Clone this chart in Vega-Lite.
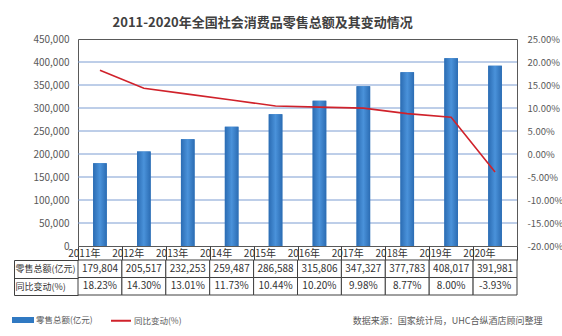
{
  "$schema": "https://vega.github.io/schema/vega-lite/v6.json",
  "padding": {"left": 12, "top": 16, "right": 0, "bottom": 5},
  "background": "white",
  "title": {"text": "2011-2020年全国社会消费品零售总额及其变动情况", "fontSize": 13, "fontWeight": "bold", "color": "#404040", "anchor": "middle", "dx": -25, "offset": 4},
  "config": {
    "font": "Noto Sans CJK SC",
    "locale": {"number": {"decimal": ".", "thousands": ",", "grouping": [3], "currency": ["$", ""], "minus": "-"}}
  },
  "bounds": "flush",
  "spacing": 14,
  "datasets": {
    "d": [
      {"year": "2011年", "amount": 179804, "pct": 0.1823},
      {"year": "2012年", "amount": 205517, "pct": 0.1430},
      {"year": "2013年", "amount": 232253, "pct": 0.1301},
      {"year": "2014年", "amount": 259487, "pct": 0.1173},
      {"year": "2015年", "amount": 286588, "pct": 0.1044},
      {"year": "2016年", "amount": 315806, "pct": 0.1020},
      {"year": "2017年", "amount": 347327, "pct": 0.0998},
      {"year": "2018年", "amount": 377783, "pct": 0.0877},
      {"year": "2019年", "amount": 408017, "pct": 0.0800},
      {"year": "2020年", "amount": 391981, "pct": -0.0393}
    ],
    "gridlines": [
      {"tick": 50000}, {"tick": 100000}, {"tick": 150000}, {"tick": 200000},
      {"tick": 250000}, {"tick": 300000}, {"tick": 350000}, {"tick": 400000}
    ]
  },
  "resolve": {"scale": {"color": "shared"}, "legend": {"color": "shared"}},
  "vconcat": [
    {
      "width": 439,
      "height": 207,
      "view": {"stroke": "#595959", "strokeWidth": 1},
      "layer": [
        {
          "layer": [
            {
              "data": {"name": "gridlines"},
              "mark": {"type": "rule", "stroke": "#7d9dd2", "strokeWidth": 1, "opacity": 1},
              "encoding": {
                "x": {"datum": "2011年", "type": "nominal", "bandPosition": 0},
                "x2": {"datum": "2020年", "bandPosition": 1},
                "y": {"field": "tick", "type": "quantitative",
                  "scale": {"domain": [0, 450000], "nice": false},
                  "axis": {"title": null, "values": [0, 50000, 100000, 150000, 200000, 250000, 300000, 350000, 400000, 450000], "format": ",.0f", "grid": false, "domain": false, "ticks": false, "labelPadding": 9, "labelFontSize": 10, "labelColor": "#595959"}}
              }
            },
            {
              "data": {"name": "d"},
              "mark": {"type": "bar", "width": {"band": 0.31}},
              "encoding": {
                "x": {"field": "year", "type": "nominal", "sort": null,
                  "scale": {"type": "band", "domain": ["2011年", "2012年", "2013年", "2014年", "2015年", "2016年", "2017年", "2018年", "2019年", "2020年"], "paddingInner": 0, "paddingOuter": 0},
                  "axis": {"title": null, "orient": "bottom", "domain": false, "ticks": true, "tickBand": "extent", "tickSize": 14, "tickColor": "#404040", "tickWidth": 1, "labelPadding": -7, "labelBaseline": "middle", "labelFontSize": 10, "labelColor": "#333333", "labelAngle": 0, "grid": false}},
                "y": {"field": "amount", "type": "quantitative",
                  "axis": {"title": null, "values": [0, 50000, 100000, 150000, 200000, 250000, 300000, 350000, 400000, 450000], "format": ",.0f", "grid": false, "domain": false, "ticks": false, "labelPadding": 9, "labelFontSize": 10, "labelColor": "#595959"}},
                "color": {"datum": "零售总额(亿元)",
                  "scale": {"domain": ["零售总额(亿元)", "同比变动(%)"], "range": ["#3079c2", "#d0222b"]},
                  "legend": {"orient": "none", "legendX": -66, "legendY": 270, "direction": "horizontal", "title": null, "symbolSize": 400, "labelFontSize": 8.5, "labelColor": "#595959", "columnPadding": 14, "labelOffset": 2,
                    "encode": {"symbols": {"update": {
                      "shape": {"signal": "datum.value === '零售总额(亿元)' ? 'M-1,-0.2H1V0.2H-1Z' : 'M-1,0H1'"},
                      "fill": {"signal": "datum.value === '零售总额(亿元)' ? '#3079c2' : 'transparent'"},
                      "stroke": {"signal": "datum.value === '零售总额(亿元)' ? 'transparent' : '#d0222b'"},
                      "strokeWidth": {"value": 2}
                    }}}}
                }
              }
            },
            {
              "data": {"name": "d"},
              "mark": {"type": "bar", "width": {"band": 0.31},
                "fill": {"gradient": "linear", "x1": 0, "y1": 0, "x2": 1, "y2": 0,
                  "stops": [{"offset": 0, "color": "#2b6cb3"}, {"offset": 0.5, "color": "#4a92da"}, {"offset": 1, "color": "#2b6cb3"}]}},
              "encoding": {
                "x": {"field": "year", "type": "nominal", "sort": null,
                  "axis": {"title": null, "orient": "bottom", "domain": false, "ticks": true, "tickBand": "extent", "tickSize": 14, "tickColor": "#404040", "tickWidth": 1, "labelPadding": -7, "labelBaseline": "middle", "labelFontSize": 10, "labelColor": "#333333", "labelAngle": 0, "grid": false}},
                "y": {"field": "amount", "type": "quantitative",
                  "axis": {"title": null, "values": [0, 50000, 100000, 150000, 200000, 250000, 300000, 350000, 400000, 450000], "format": ",.0f", "grid": false, "domain": false, "ticks": false, "labelPadding": 9, "labelFontSize": 10, "labelColor": "#595959"}}
              }
            }
          ]
        },
        {
          "data": {"name": "d"},
          "mark": {"type": "line", "strokeWidth": 1.6},
          "encoding": {
            "x": {"field": "year", "type": "nominal", "sort": null,
              "axis": {"title": null, "orient": "bottom", "domain": false, "ticks": true, "tickBand": "extent", "tickSize": 14, "tickColor": "#404040", "tickWidth": 1, "labelPadding": -7, "labelBaseline": "middle", "labelFontSize": 10, "labelColor": "#333333", "labelAngle": 0, "grid": false}},
            "y": {"field": "pct", "type": "quantitative",
              "scale": {"domain": [-0.2, 0.25], "nice": false},
              "axis": {"orient": "right", "title": null, "values": [-0.2, -0.15, -0.1, -0.05, 0, 0.05, 0.1, 0.15, 0.2, 0.25], "format": ".2%", "grid": false, "domain": false, "ticks": false, "labelPadding": 10, "labelFontSize": 9.5, "labelColor": "#595959"}},
            "color": {"datum": "同比变动(%)"}
          }
        }
      ],
      "resolve": {"scale": {"y": "independent"}}
    },
    {
      "width": 439,
      "height": 35,
      "data": {"name": "d"},
      "view": {"stroke": null},
      "title": {"text": "数据来源：国家统计局，UHC合纵酒店顾问整理", "orient": "bottom", "anchor": "end", "dx": 25, "offset": 21, "fontSize": 9, "fontWeight": "normal", "color": "#595959"},
      "encoding": {
        "x": {"field": "year", "type": "nominal", "sort": null, "scale": {"type": "band", "paddingInner": 0, "paddingOuter": 0}, "axis": null}
      },
      "layer": [
        {
          "layer": [
            {
              "mark": {"type": "rect", "fill": "white", "stroke": "#404040", "strokeWidth": 1},
              "encoding": {
                "y": {"datum": "零售总额(亿元)", "type": "nominal",
                  "scale": {"type": "band", "domain": ["零售总额(亿元)", "同比变动(%)"], "paddingInner": 0, "paddingOuter": 0},
                  "axis": {"title": null, "orient": "left", "domain": false, "ticks": true, "tickBand": "extent", "tickSize": 64, "tickColor": "#404040", "tickWidth": 1, "labelAlign": "left", "labelPadding": -1, "labelFontSize": 9, "labelColor": "#333333", "grid": false}}
              }
            },
            {
              "mark": {"type": "rect", "fill": "white", "stroke": "#404040", "strokeWidth": 1},
              "encoding": {"y": {"datum": "同比变动(%)", "type": "nominal"}}
            },
            {
              "mark": {"type": "text", "fontSize": 10, "color": "#333333"},
              "encoding": {
                "y": {"datum": "零售总额(亿元)", "type": "nominal"},
                "text": {"field": "amount", "type": "quantitative", "format": ","}
              }
            }
          ]
        },
        {
          "mark": {"type": "text", "fontSize": 10, "color": "#333333"},
          "encoding": {
            "y": {"datum": "同比变动(%)", "type": "nominal",
              "scale": {"type": "band", "domain": ["零售总额(亿元)", "同比变动(%)"], "paddingInner": 0, "paddingOuter": 0},
              "axis": {"title": null, "orient": "left", "offset": 64, "labels": false, "ticks": false, "domain": true, "domainColor": "#404040", "domainWidth": 1, "grid": false}},
            "text": {"field": "pct", "type": "quantitative", "format": ".2%"}
          }
        }
      ],
      "resolve": {"scale": {"y": "independent"}}
    }
  ]
}
